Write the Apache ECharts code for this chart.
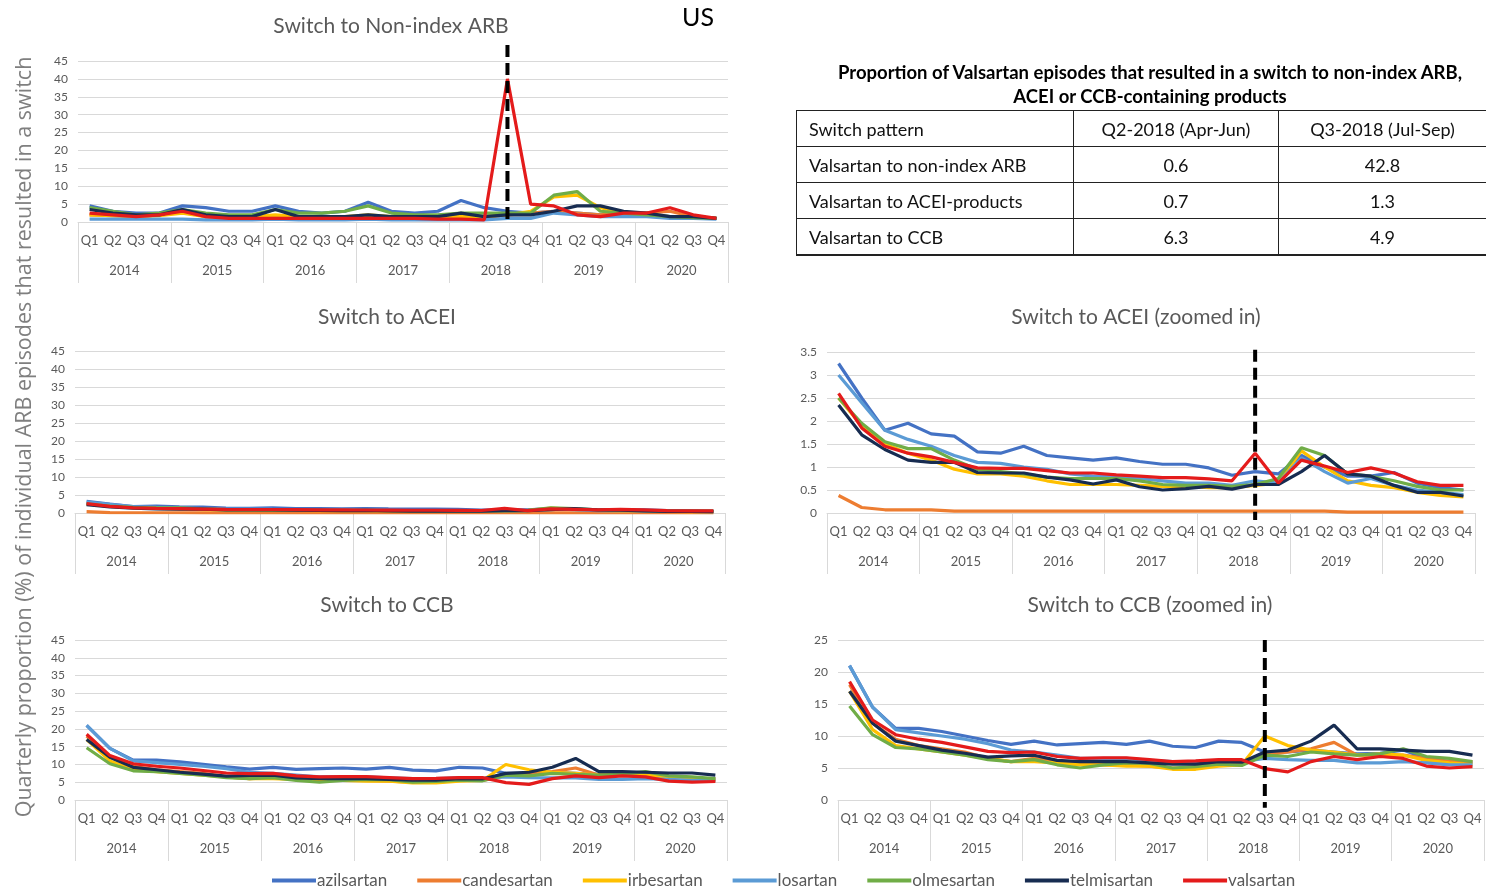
<!DOCTYPE html>
<html>
<head>
<meta charset="utf-8">
<title>US switch patterns</title>
<script src="https://cdn.jsdelivr.net/npm/echarts@6/dist/echarts.min.js"></script>
<style>
html, body { margin: 0; padding: 0; background: #fff; }
#chart { position: absolute; left: 0; top: 0; width: 1486px; height: 887px; }
#tableTitle {
    position: absolute; left: 796px; top: 60px; width: 708px;
    text-align: center; font-family: Lato, sans-serif; font-weight: bold;
    font-size: 18.5px; line-height: 24px; color: #000;
}
#tbl {
    position: absolute; left: 796px; top: 110px; width: 690px;
    border-collapse: collapse; font-family: Lato, sans-serif; font-size: 18px; color: #111;
}
#tbl td { border: 1px solid #222; height: 35px; padding: 0 12px; text-align: center; }
#tbl td:first-child { text-align: left; }
#tbl tr:last-child td { border-bottom: 2px solid #222; }
#tbl td:last-child { border-right: none; }
</style>
</head>
<body>
<div id="chart"></div>
<div id="tableTitle">Proportion of Valsartan episodes that resulted in a switch to non-index ARB,<br>ACEI or CCB-containing products</div>
<table id="tbl"></table>
<script>
'use strict';

const years = ['2014', '2015', '2016', '2017', '2018', '2019', '2020'];
const quarterNames = ['Q1', 'Q2', 'Q3', 'Q4'];
const drugs = ['azilsartan', 'candesartan', 'irbesartan', 'losartan', 'olmesartan', 'telmisartan', 'valsartan'];
const colors = ['#4472C4', '#ED7D31', '#FFC000', '#5B9BD5', '#70AD47', '#172C51', '#E41B1B'];
const eventQuarter = '2018Q3';

// Switch to non-index ARB
const arbAzilsartan   = [4.5, 3, 2.5, 2.5, 4.5, 4, 3, 3, 4.5, 3, 2.5, 3, 5.5, 3, 2.5, 3, 6, 4, 3, 2.5, 3, 2.5, 2, 2, 2, 1.5, 1.5, 1];
const arbCandesartan  = [2, 1.8, 1.5, 2, 3, 1.5, 1.2, 1.2, 1.5, 1.2, 1.2, 1.2, 1.5, 1.2, 1.2, 1.2, 1.2, 1.2, 2, 2.5, 3, 2.5, 2, 2.5, 2.5, 3, 1.5, 1];
const arbIrbesartan   = [2, 1.8, 1.5, 1.8, 2.5, 1.5, 1.5, 1.5, 2, 1.5, 1.5, 1.5, 2, 1.5, 1.5, 1.5, 1.5, 1.5, 2, 3, 7, 7.5, 4, 2.5, 2, 1.5, 1.2, 1];
const arbLosartan     = [0.8, 0.8, 0.8, 0.8, 0.8, 0.6, 0.6, 0.6, 0.8, 0.6, 0.6, 0.6, 0.8, 0.6, 0.6, 0.6, 0.6, 0.6, 1, 1, 2.5, 2, 1.5, 1.5, 1.5, 1, 1, 0.8];
const arbOlmesartan   = [4, 3, 2, 2.5, 3.5, 2.5, 2, 2, 3.5, 2.5, 2.5, 3, 4.5, 2.5, 2, 2, 2.5, 2.5, 2.5, 2.5, 7.5, 8.5, 3, 2.5, 2, 1.5, 1.2, 1];
const arbTelmisartan  = [3.5, 2.5, 2, 2, 3.5, 2, 1.5, 1.5, 3.5, 1.5, 1.5, 1.5, 2, 1.5, 1.5, 1.5, 2.5, 1.5, 2, 2, 3, 4.5, 4.5, 3, 2.5, 1.5, 1.5, 1];
const arbValsartan    = [2.5, 2, 1.5, 2, 3, 1.5, 1, 1, 1, 1, 1, 1, 1, 1, 1, 0.8, 0.8, 0.6, 40, 5, 4.5, 2, 1.5, 2.5, 2.5, 4, 2, 1];

// Switch to ACEI
const aceiAzilsartan  = [3.25, 2.5, 1.8, 1.95, 1.72, 1.67, 1.33, 1.3, 1.45, 1.25, 1.2, 1.15, 1.2, 1.12, 1.06, 1.06, 0.98, 0.82, 0.9, 0.85, 1.25, 1.0, 0.8, 0.8, 0.88, 0.65, 0.55, 0.5];
const aceiCandesartan = [0.38, 0.12, 0.07, 0.07, 0.07, 0.04, 0.04, 0.04, 0.04, 0.04, 0.04, 0.04, 0.04, 0.04, 0.04, 0.04, 0.04, 0.04, 0.04, 0.04, 0.04, 0.04, 0.02, 0.02, 0.02, 0.02, 0.02, 0.02];
const aceiIrbesartan  = [2.5, 1.9, 1.5, 1.3, 1.15, 0.95, 0.85, 0.85, 0.8, 0.7, 0.62, 0.62, 0.62, 0.6, 0.58, 0.58, 0.55, 0.55, 0.6, 0.65, 1.35, 1.0, 0.7, 0.6, 0.55, 0.45, 0.38, 0.35];
const aceiLosartan    = [3.0, 2.4, 1.8, 1.6, 1.45, 1.25, 1.1, 1.08, 1.0, 0.95, 0.85, 0.8, 0.8, 0.75, 0.7, 0.65, 0.65, 0.6, 0.7, 0.65, 1.2, 0.9, 0.65, 0.75, 0.6, 0.5, 0.45, 0.4];
const aceiOlmesartan  = [2.5, 1.95, 1.55, 1.4, 1.4, 1.15, 0.95, 0.9, 0.85, 0.78, 0.75, 0.75, 0.75, 0.7, 0.62, 0.6, 0.6, 0.58, 0.62, 0.75, 1.42, 1.25, 0.85, 0.8, 0.7, 0.58, 0.5, 0.5];
const aceiTelmisartan = [2.35, 1.7, 1.38, 1.15, 1.1, 1.1, 0.88, 0.87, 0.87, 0.78, 0.72, 0.63, 0.72, 0.57, 0.5, 0.53, 0.58, 0.52, 0.62, 0.62, 0.9, 1.25, 0.85, 0.8, 0.6, 0.45, 0.45, 0.37];
const aceiValsartan   = [2.6, 1.85, 1.45, 1.3, 1.22, 1.1, 0.98, 0.97, 0.97, 0.92, 0.87, 0.87, 0.83, 0.8, 0.77, 0.77, 0.74, 0.7, 1.3, 0.65, 1.15, 1.02, 0.88, 0.98, 0.87, 0.68, 0.6, 0.6];

// Switch to CCB
const ccbAzilsartan   = [21, 14.5, 11.2, 11.2, 10.7, 10, 9.3, 8.7, 9.2, 8.6, 8.8, 9.0, 8.7, 9.2, 8.4, 8.2, 9.2, 9.0, 7.5, 7.5, 7.8, 7.5, 7.2, 7.3, 7.8, 6.5, 6, 5.8];
const ccbCandesartan  = [18, 12, 9.5, 8.5, 8, 7.5, 6.5, 6, 6.5, 6, 5.8, 5.5, 5.5, 5.3, 5, 5, 5.5, 5.5, 7, 7.5, 8, 9, 7, 7, 7, 6.5, 6, 6];
const ccbIrbesartan   = [17, 11, 8.5, 8, 7.5, 7, 6.5, 6, 6, 5.8, 5.5, 5.5, 5.3, 5.3, 4.8, 4.8, 5.3, 5.5, 10, 8.5, 7.8, 7.5, 7, 7.2, 7, 6.2, 5.8, 5.5];
const ccbLosartan     = [21, 14.5, 11, 10.5, 10, 9.5, 8.8, 7.8, 7.5, 7, 6.5, 6.5, 6.5, 6.2, 6, 6, 6.2, 6, 6.5, 6.3, 6.2, 6.2, 5.8, 5.8, 6, 5.8, 5.5, 5.5];
const ccbOlmesartan   = [14.7, 10.2, 8.2, 8, 7.5, 7, 6.3, 6, 6.3, 5.5, 5, 5.5, 5.8, 5.7, 5, 5.2, 5.6, 5.4, 7, 6.8, 7.5, 7.2, 7, 7.2, 8, 6.8, 6.5, 6];
const ccbTelmisartan  = [17, 12, 9.2, 8.5, 7.8, 7.3, 6.7, 6.9, 7, 6.2, 6, 6, 6, 5.8, 5.6, 5.6, 6, 5.9, 7.5, 7.8, 9.2, 11.7, 8, 8, 7.8, 7.6, 7.6, 7];
const ccbValsartan    = [18.5, 12.5, 10.2, 9.5, 9, 8.3, 7.6, 7.4, 7.5, 6.8, 6.5, 6.6, 6.6, 6.3, 6, 6.1, 6.3, 6.3, 4.9, 4.4, 6, 6.8, 6.3, 6.8, 6.5, 5.3, 5, 5.2];

// table
const tableHeader = ['Switch pattern', 'Q2-2018 (Apr-Jun)', 'Q3-2018 (Jul-Sep)'];
const tablePatterns = ['Valsartan to non-index ARB', 'Valsartan to ACEI-products', 'Valsartan to CCB'];
const tableQ2 = [0.6, 0.7, 6.3];
const tableQ3 = [42.8, 1.3, 4.9];

const arbData  = [arbAzilsartan, arbCandesartan, arbIrbesartan, arbLosartan, arbOlmesartan, arbTelmisartan, arbValsartan];
const aceiData = [aceiAzilsartan, aceiCandesartan, aceiIrbesartan, aceiLosartan, aceiOlmesartan, aceiTelmisartan, aceiValsartan];
const ccbData  = [ccbAzilsartan, ccbCandesartan, ccbIrbesartan, ccbLosartan, ccbOlmesartan, ccbTelmisartan, ccbValsartan];

const quarters = [];
years.forEach(y => quarterNames.forEach(q => quarters.push(y + q)));

// build the table
let rows = '<tr>' + tableHeader.map(h => '<td>' + h + '</td>').join('') + '</tr>';
tablePatterns.forEach((p, i) => {
    rows += '<tr><td>' + p + '</td><td>' + tableQ2[i].toFixed(1) + '</td><td>' + tableQ3[i].toFixed(1) + '</td></tr>';
});
document.getElementById('tbl').innerHTML = rows;
document.querySelector('#tbl tr').querySelectorAll('td')[0].style.width = '252px';
document.querySelector('#tbl tr').querySelectorAll('td')[1].style.width = '180px';

const font = 'Lato, sans-serif';
const gray = '#595959';
const lineGray = '#d9d9d9';

// marker: [top, bottom] of the dashed Q3-2018 line in axis units
const panels = [
    { title: 'Switch to Non-index ARB', tx: 391, ty: 16, grid: { left: 78, top: 61, width: 650, height: 161 }, max: 45, interval: 5, data: arbData, marker: [49.5, 0] },
    { title: 'Switch to ACEI', tx: 387, ty: 307, grid: { left: 75, top: 351, width: 650, height: 162 }, max: 45, interval: 5, data: aceiData },
    { title: 'Switch to ACEI (zoomed in)', tx: 1136, ty: 307, grid: { left: 827, top: 352, width: 648, height: 161 }, max: 3.5, interval: 0.5, data: aceiData, marker: [3.55, -0.15] },
    { title: 'Switch to CCB', tx: 387, ty: 595, grid: { left: 75, top: 640, width: 652, height: 160 }, max: 45, interval: 5, data: ccbData },
    { title: 'Switch to CCB (zoomed in)', tx: 1150, ty: 595, grid: { left: 838, top: 640, width: 646, height: 160 }, max: 25, interval: 5, data: ccbData, marker: [25, -1.2] }
];

const option = {
    animation: false,
    color: colors,
    title: [],
    grid: [],
    xAxis: [],
    yAxis: [],
    series: [],
    legend: {
        data: drugs,
        left: 267,
        top: 867,
        icon: 'rect',
        itemWidth: 44,
        itemHeight: 4,
        itemGap: 30,
        textStyle: { fontFamily: font, fontSize: 17, color: gray, padding: [0, 0, 0, -4] }
    },
    graphic: [
        {
            type: 'text', left: 682, top: 5,
            style: { text: 'US', font: '25px ' + font, fill: '#000' }
        },
        {
            type: 'text', x: 25, y: 437, rotation: Math.PI / 2,
            style: {
                text: 'Quarterly proportion (%) of individual ARB episodes that resulted in a switch',
                font: '21.5px "Open Sans", sans-serif', fill: '#7f7f7f',
                align: 'center', verticalAlign: 'middle'
            }
        }
    ]
};

panels.forEach((p, gi) => {
    option.title.push({
        text: p.title, left: p.tx, top: p.ty, textAlign: 'center', padding: 0,
        textStyle: { fontFamily: font, fontSize: 21, fontWeight: 'normal', color: gray }
    });
    option.grid.push(p.grid);
    option.xAxis.push({
        type: 'category', gridIndex: gi, data: quarters, boundaryGap: true,
        axisLine: { lineStyle: { color: lineGray } },
        axisTick: { show: false },
        axisLabel: { interval: 0, margin: 12, color: gray, fontFamily: font, fontSize: 13, formatter: v => v.slice(4) }
    });
    option.xAxis.push({
        type: 'category', gridIndex: gi, data: years, position: 'bottom', boundaryGap: true,
        axisLine: { show: false },
        axisTick: { show: true, interval: 0, length: 61, lineStyle: { color: lineGray } },
        axisLabel: { interval: 0, margin: 42, color: gray, fontFamily: font, fontSize: 13 }
    });
    option.yAxis.push({
        type: 'value', gridIndex: gi, min: 0, max: p.max, interval: p.interval,
        axisLine: { show: false }, axisTick: { show: false },
        splitLine: { lineStyle: { color: lineGray } },
        axisLabel: { color: gray, fontFamily: font, fontSize: 12, margin: 10 }
    });
    drugs.forEach((d, di) => {
        option.series.push({
            name: d, type: 'line', xAxisIndex: gi * 2, yAxisIndex: gi,
            data: p.data[di], symbol: 'none',
            lineStyle: { width: 3.2, color: colors[di] },
            itemStyle: { color: colors[di] }
        });
    });
    if (p.marker) {
        option.series.push({
            name: 'marker', type: 'custom', xAxisIndex: gi * 2, yAxisIndex: gi,
            clip: false, silent: true, z: 5,
            data: [[eventQuarter, p.marker[0], p.marker[1]]],
            encode: { x: 0, y: [1, 2] },
            renderItem: (params, api) => {
                const a = api.coord([api.value(0), api.value(1)]);
                const b = api.coord([api.value(0), api.value(2)]);
                return {
                    type: 'line',
                    shape: { x1: a[0], y1: a[1], x2: b[0], y2: b[1] },
                    style: { stroke: '#000', lineWidth: 4, lineDash: [12, 6] }
                };
            }
        });
    }
});

let instance = echarts.init(document.getElementById('chart'));
instance.setOption(option);
window.onresize = () => {
    instance.resize();
};
</script>
</body>
</html>
